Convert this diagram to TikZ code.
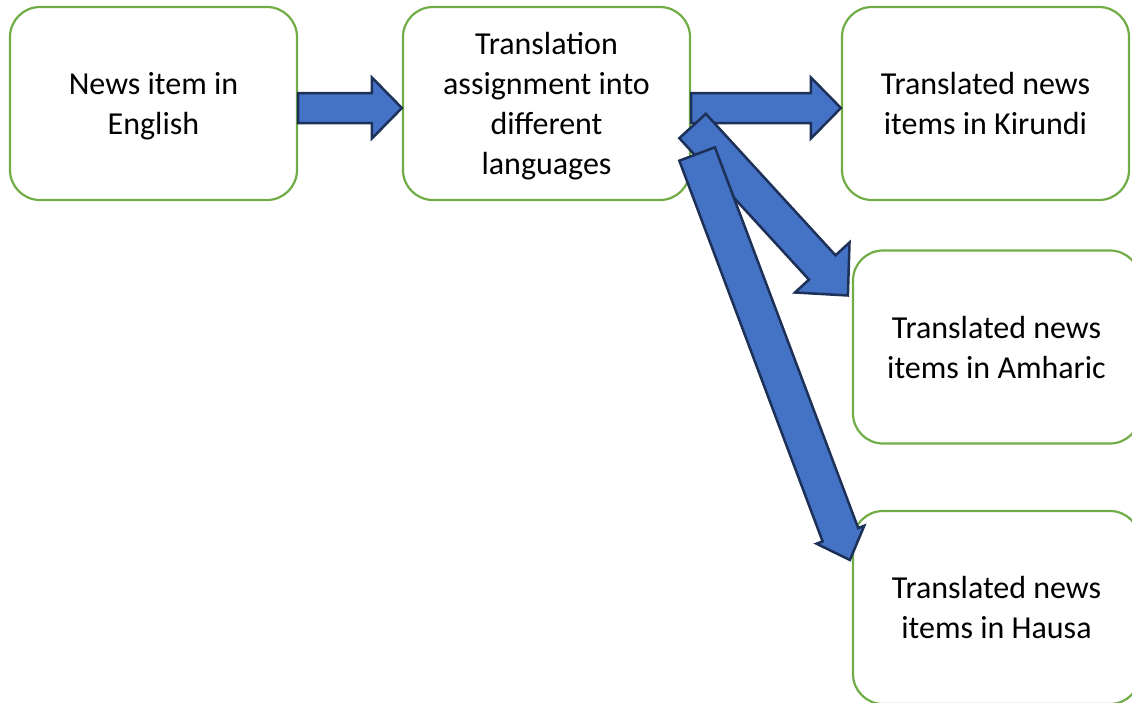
\documentclass[tikz,border=0pt]{standalone}
\usepackage{fontspec}
\setmainfont{Carlito}
\usetikzlibrary{calc}

\definecolor{boxgreen}{RGB}{112,173,71}
\definecolor{arrowblue}{RGB}{68,114,196}
\definecolor{arrowline}{RGB}{28,48,88}

\tikzset{
  newsbox/.style={draw=boxgreen, line width=2.2pt, rounded corners=30pt, fill=white,
    minimum width=287pt, minimum height=193pt, inner sep=0pt, align=center,
    text depth=0pt, execute at begin node={\rule{0pt}{30pt}},
    font=\fontsize{32pt}{40pt}\selectfont},
  blockarrow/.style={fill=arrowblue, draw=arrowline, line width=2.5pt, line join=miter}
}

% block arrow: tail, tip, half shaft, half head, head length
\newcommand{\blockarrow}[5]{%
  \draw[blockarrow] ($(#1)!#3!90:(#2)$) -- ($(#2)!#5!(#1)!#3!-90:(#1)$)
    -- ($(#2)!#5!(#1)!#4!-90:(#1)$) -- (#2)
    -- ($(#2)!#5!(#1)!#4!90:(#1)$) -- ($(#2)!#5!(#1)!#3!90:(#1)$)
    -- ($(#1)!#3!-90:(#2)$) -- cycle;
}

\begin{document}
\begin{tikzpicture}[x=1pt,y=-1pt]
\clip (0,0) rectangle (1132,702);

%Boxes
\node[newsbox] (eng) at (153.5,103.5) {News item in\\English};
\node[newsbox] (trans) at (546.5,103.5) {Translation\\assignment into\\different\\languages};
\node[newsbox] (kir) at (985.5,103.5) {Translated news\\items in Kirundi};
\node[newsbox] (amh) at (996.5,347) {Translated news\\items in Amharic};
\node[newsbox] (hau) at (996.5,607.5) {Translated news\\items in Hausa};

%Arrow ends
\coordinate (e1) at ($(eng.east)+(0,4.5)$);
\coordinate (t1) at ($(trans.west)+(0,4.5)$);
\coordinate (e2) at ($(trans.east)+(0,4.5)$);
\coordinate (t2) at ($(kir.west)+(0,4.5)$);
\coordinate (e3) at ($(trans.east)+(1.5,22.5)$);
\coordinate (t3) at ($(amh.west)+(-4,-51.5)$);
\coordinate (e4) at ($(trans.east)+(6,50.5)$);
\coordinate (t4) at ($(hau.west)+(-2,-47.5)$);

%Arrows
\blockarrow{e1}{t1}{15pt}{30.5pt}{30pt}
\blockarrow{e2}{t2}{15pt}{30.5pt}{30pt}
\blockarrow{e3}{t3}{18pt}{37pt}{38pt}
\blockarrow{e4}{t4}{19pt}{25.5pt}{27pt}

\end{tikzpicture}
\end{document}
